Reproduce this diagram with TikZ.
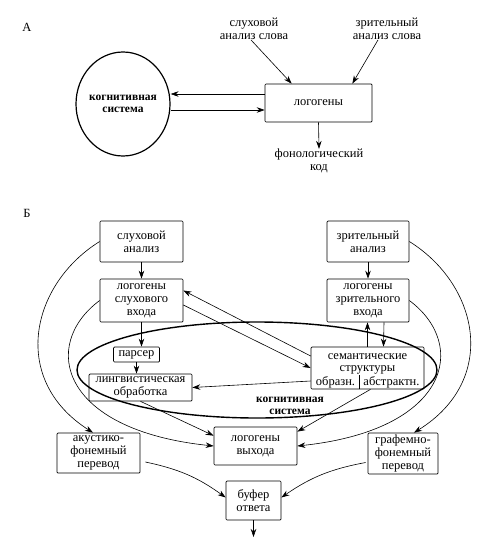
\documentclass[tikz,border=0pt]{standalone}
\usepackage{fontspec}
\setmainfont{Liberation Serif}
\usetikzlibrary{arrows.meta,calc,shapes.geometric}
\begin{document}
\begin{tikzpicture}[x=1pt,y=-1pt,
  txt/.style={font=\fontsize{12.5}{12.8}\selectfont},
  box/.style={draw, line width=0.7pt, rounded corners=1pt, align=center, inner sep=0pt, txt},
  lbl/.style={align=center, inner sep=0pt, txt},
  cog/.style={align=center, inner sep=0pt, font=\fontsize{11.5}{12}\selectfont\bfseries},
  arr/.style={-{Stealth[length=8pt,width=5.5pt]}, line width=0.6pt},
  thin/.style={line width=0.6pt}
]
\useasboundingbox (0,0) rectangle (484,543);

% ---------- part A ----------
\node[lbl] (lA) at (27,27) {А};
\node[draw, ellipse, line width=1.2pt, minimum width=94pt, minimum height=104pt, inner sep=0pt] (ea) at (123,104) {};
\node[cog] (cogA) at (123,104) {когнитивная\\система};
\node[box, minimum width=107pt, minimum height=38pt] (la) at (318.5,103) {логогены};
\node[lbl] (s1) at (254,29) {слуховой\\анализ слова};
\node[lbl] (z1) at (387,29) {зрительный\\анализ слова};
\node[lbl] (fk) at (319,161) {фонологический\\код};

\draw[arr] ([yshift=9pt]la.west) -- ([yshift=9pt]la.west -| ea.east);
\draw[arr] ([yshift=-7pt]la.west -| ea.east) -- ([yshift=-7pt]la.west);
\draw[arr] ([xshift=-3pt]s1.south) -- ([xshift=27pt]la.north west);
\draw[arr] ([xshift=-9pt]z1.south) -- ([xshift=-20pt]la.north east);
\draw[arr] (la.south) -- (fk.north);

% ---------- part B ----------
\node[lbl] (lB) at (27,213) {Б};
\draw[line width=1.4pt] (257,370) ellipse [x radius=180pt, y radius=48pt];

\node[box, minimum width=83pt, minimum height=41pt] (sa) at (141.5,241.5) {слуховой\\анализ};
\node[box, minimum width=82pt, minimum height=41pt] (za) at (368,241.5) {зрительный\\анализ};
\node[box, minimum width=83pt, minimum height=43pt] (ls) at (141.5,300.5) {логогены\\слухового\\входа};
\node[box, minimum width=82pt, minimum height=43pt] (lz) at (368,300.5) {логогены\\зрительного\\входа};
\node[box, minimum width=46pt, minimum height=15pt] (pa) at (136.5,354.5) {парсер};
\node[box, minimum width=103pt, minimum height=27pt] (lo) at (140.5,387.5) {лингвистическая\\обработка};
\node[box, minimum width=113pt, minimum height=42pt] (sem) at (367.5,368) {};
\node[lbl] (sem1) at (367.5,356.5) {семантические};
\node[lbl] (sem2) at (367.5,369.5) {структуры};
\node[lbl] (sem3) at (335.5,382) {образн.};
\node[lbl] (sem4) at (391.5,382) {абстрактн.};
\draw[thin] ([xshift=-8.5pt]sem.south) -- ++(0,-14);
\node[cog] (cogB) at (290,406) {когнитивная\\система};
\node[box, minimum width=83pt, minimum height=38pt] (lv) at (255.5,446) {логогены\\выхода};
\node[box, minimum width=83pt, minimum height=40pt] (af) at (98.5,453) {акустико-\\фонемный\\перевод};
\node[box, minimum width=70pt, minimum height=41pt] (gf) at (403,453.5) {графемно-\\фонемный\\перевод};
\node[box, minimum width=55pt, minimum height=39pt] (bo) at (253.5,500.5) {буфер\\ответа};
\coordinate (out) at (253.5,537);

\draw[arr] (sa.south) -- (ls.north);
\draw[arr] (za.south) -- (lz.north);
\draw[arr] (ls.south) -- (ls.south |- pa.north);
\draw[arr] (pa.south) -- (pa.south |- lo.north);
\draw[arr] ([yshift=-4.5pt]ls.east) -- (sem.west);
\draw[arr] ([yshift=12pt]sem.west) -- ([yshift=10pt]ls.east);
\draw[arr] (sem.north) -- (sem.north |- lz.south);
\draw[arr] ([xshift=16pt]lz.south) -- ([xshift=16pt]sem.north);
\draw[arr] ([yshift=-13pt]sem.west) -- (lo.east);
\draw[arr] (lo.south) -- ([yshift=-9pt]lv.north west);
\draw[arr] ([xshift=3pt]sem.south) -- ([yshift=-5pt]lv.north east);
\draw[arr] (ls.west) .. controls (40,345) and (60,430) .. (lv.west);
\draw[arr] (lz.east) .. controls (469,345) and (449,430) .. (lv.east);
\draw[arr] (sa.west) .. controls (30,285) and (10,380) .. ([xshift=-5.5pt]af.north);
\draw[arr] (za.east) .. controls (479,285) and (499,380) .. ([xshift=11pt]gf.north);
\draw[arr] ([xshift=5pt,yshift=-9pt]af.east) to[bend left=12] ([yshift=3pt]bo.west);
\draw[arr] ([xshift=-2pt,yshift=-9pt]gf.west) to[bend right=12] ([yshift=3pt]bo.east);
\draw[arr] (bo.south) -- (out);
\end{tikzpicture}
\end{document}
